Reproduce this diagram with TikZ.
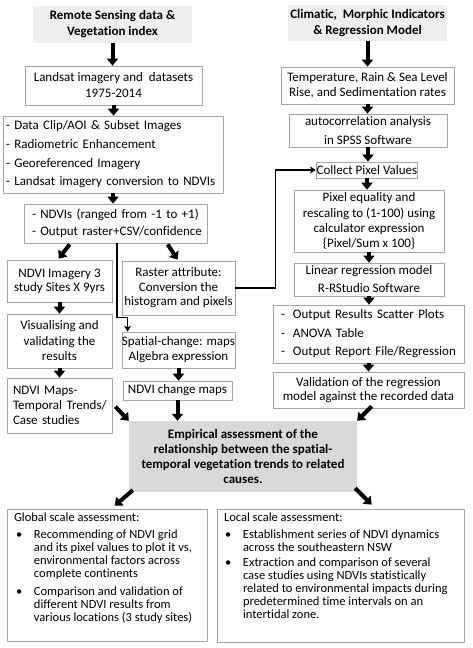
\documentclass[tikz,border=0pt]{standalone}
\usepackage{fontspec}
\setmainfont{Carlito}[Ligatures=CommonOff]
\usetikzlibrary{arrows.meta,calc}
\definecolor{hdrgray}{HTML}{EFEFEF}
\definecolor{empgray}{HTML}{D9D9D9}
\definecolor{bordergray}{HTML}{A6A6A6}
\newcommand{\mydash}{\makebox[12pt][l]{-}}
\tikzset{
  wh/.style 2 args={minimum width=#1pt, minimum height=#2pt},
  box/.style={draw=bordergray, line width=0.7pt, fill=white, align=center, inner sep=2pt, font=\fontsize{13}{16}\selectfont},
  pbox/.style={draw=bordergray, line width=0.7pt, fill=white, inner xsep=7pt, inner ysep=3pt},
  hdr/.style={fill=hdrgray, align=center, inner sep=2pt, font=\fontsize{13}{16}\selectfont\bfseries},
  big/.style={-{Triangle[length=7pt,width=11pt]}, line width=4pt},
  slim/.style={-{Stealth[length=6pt,width=7pt]}, line width=1.7pt},
}
\begin{document}
\begin{tikzpicture}[x=1pt,y=-1pt]
\useasboundingbox (0,0) rectangle (473,648);
\fill[white] (0,0) rectangle (473,648);

% left column
\node[hdr, wh={159}{37}] (h1) at (112.5,24.5) {Remote Sensing data \&\\Vegetation index};
\node[box, wh={177}{39}] (land) at (113.5,85.5) {Landsat imagery and\ \ datasets\\1975-2014};
\node[box, align=left, text width=214pt, inner xsep=3pt, minimum height=77pt, font=\fontsize{13}{18.7}\selectfont] (list1) at (113,154.5) {\mbox{- Data Clip/AOI \& Subset Images}\\\mbox{- Radiometric Enhancement}\\\mbox{- Georeferenced Imagery}\\\mbox{- Landsat imagery conversion to NDVIs}};
\node[box, align=left, text width=167pt, inner xsep=8pt, minimum height=39pt, font=\fontsize{13}{17}\selectfont] (ndvis) at (115.5,223.5) {\mbox{- NDVIs (ranged from -1 to +1)}\\\mbox{- Output raster+CSV/confidence}};
\node[box, wh={105}{42}, font=\fontsize{13}{14}\selectfont] (img3) at (59.5,281) {NDVI Imagery 3\\study Sites X 9yrs};
\node[box, wh={113}{54}, inner xsep=0pt, font=\fontsize{13}{14.5}\selectfont] (raster) at (178.5,288) {Raster attribute:\\Conversion the\\histogram and pixels};
\node[box, wh={105}{54}, font=\fontsize{13}{15.5}\selectfont] (visual) at (59.5,341) {Visualising and\\validating the\\results};
\node[box, align=left, text width=93pt, inner xsep=6pt, minimum height=55pt, font=\fontsize{13}{15}\selectfont] (maps) at (59.5,405.5) {\mbox{NDVI Maps-}\\\mbox{Temporal Trends/}\\\mbox{Case studies}};
\node[box, wh={113}{36}, inner xsep=0pt, font=\fontsize{13}{15}\selectfont] (spatial) at (178.5,350) {Spatial-change: maps\\Algebra expression};
\node[box, wh={109}{19}, inner sep=1pt] (chg) at (177.5,390.5) {NDVI change maps};
\node[fill=empgray, wh={228}{71}, align=center, inner sep=2pt, font=\fontsize{13}{15.3}\selectfont\bfseries] (emp) at (243,456.5) {Empirical assessment of the\\relationship between the spatial-\\temporal vegetation trends to related\\causes.};

% right column
\node[hdr, wh={159}{36}] (h2) at (367.5,23) {Climatic,\ \ Morphic Indicators\\\& Regression Model};
\node[box, wh={173}{37}, font=\fontsize{13}{15}\selectfont] (temp) at (367.5,85.5) {Temperature, Rain \& Sea Level\\Rise, and Sedimentation rates};
\node[box, wh={158}{33}, font=\fontsize{13}{19}\selectfont] (auto) at (368,130.5) {autocorrelation analysis\\in SPSS Software};
\node[box, wh={100}{16}, inner sep=0.5pt] (collect) at (367,170) {Collect Pixel Values};
\node[box, wh={150}{62}, font=\fontsize{13}{15.2}\selectfont] (pixel) at (369,221) {Pixel equality and\\rescaling to (1-100) using\\calculator expression\\\{Pixel/Sum x 100\}};
\node[box, wh={150}{33}, font=\fontsize{13}{18}\selectfont] (linreg) at (369,279.5) {Linear regression model\\R-RStudio Software};
\node[box, align=left, text width=175pt, inner xsep=8pt, minimum height=58pt, font=\fontsize{13}{18.5}\selectfont] (out) at (368.5,334) {\mbox{\mydash Output Results Scatter Plots}\\\mbox{\mydash ANOVA Table}\\\mbox{\mydash Output Report File/Regression}};
\node[box, wh={191}{36}, font=\fontsize{13}{14}\selectfont] (valid) at (368.5,390) {Validation of the regression\\model against the recorded data};

% bottom boxes
\node[pbox] (glob) at (107,575)
 {\parbox[c][126pt][t]{186pt}{\fontsize{12.5}{13}\selectfont
  \begin{tabular}{@{\hspace{2pt}}p{18pt}@{}l@{}}
  \multicolumn{2}{@{}l@{}}{Global scale assessment:}\\[4pt]
  \textbullet & Recommending of NDVI grid\\
   & and its pixel values to plot it vs,\\
   & environmental factors across\\
   & complete continents\\[5pt]
  \textbullet & Comparison and validation of\\
   & different NDVI results from\\
   & various locations (3 study sites)
  \end{tabular}}};
\node[pbox] (loc) at (340.5,575.5)
 {\parbox[c][127pt][t]{233pt}{\fontsize{12.5}{13}\selectfont
  \begin{tabular}{@{\hspace{1pt}}p{18pt}@{}l@{}}
  \multicolumn{2}{@{}l@{}}{Local scale assessment:}\\[4pt]
  \textbullet & Establishment series of NDVI dynamics\\
   & across the southeastern NSW\\[2pt]
  \textbullet & Extraction and comparison of several\\
   & case studies using NDVIs statistically\\
   & related to environmental impacts during\\
   & predetermined time intervals on an\\
   & intertidal zone.
  \end{tabular}}};

% arrows left
\draw[big] (h1.south) -- (h1.south |- land.north);
\draw[big] (land.south) -- (land.south |- list1.north);
\draw[big] (list1.south) -- (list1.south |- ndvis.north);
\draw[big] ($(ndvis.south west)+(46,1)$) -- ($(img3.north west)+(52,-1)$);
\draw[big] ($(ndvis.south west)+(144,1)$) -- ($(raster.north west)+(56,-1)$);
\draw[big] (img3.south) -- (img3.south |- visual.north);
\draw[big] (visual.south) -- (visual.south |- maps.north);
\draw[big] ($(maps.north east)+(3,29)$) -- (emp.north west);
\draw[big] (spatial.south) -- (spatial.south |- chg.north);
\draw[big] (chg.south) -- (chg.south |- emp.north);
\draw[slim] ($(ndvis.south west)+(93,0)$) -- ++(0,74) -| ($(spatial.north west)+(6,0)$);
\draw[slim] (raster.east) -- ++(40,0) |- (collect.west);

% arrows right
\draw[big] (h2.south) -- (h2.south |- temp.north);
\draw[big] (temp.south) -- (temp.south |- auto.north);
\draw[big] (auto.south) -- (auto.south |- collect.north);
\draw[big] (collect.south) -- (collect.south |- pixel.north);
\draw[big] (pixel.south) -- (pixel.south |- linreg.north);
\draw[big] (linreg.south) -- (linreg.south |- out.north);
\draw[big] (out.south) -- (out.south |- valid.north);
\draw[big] ($(valid.south west)+(99,-2)$) -- (emp.north east);

% arrows bottom
\draw[big] ($(emp.south west)+(4,-2)$) -- ($(glob.north west)+(108,-3)$);
\draw[big] ($(emp.south east)+(-2,-4)$) -- ($(loc.north west)+(155,-4)$);
\end{tikzpicture}
\end{document}
